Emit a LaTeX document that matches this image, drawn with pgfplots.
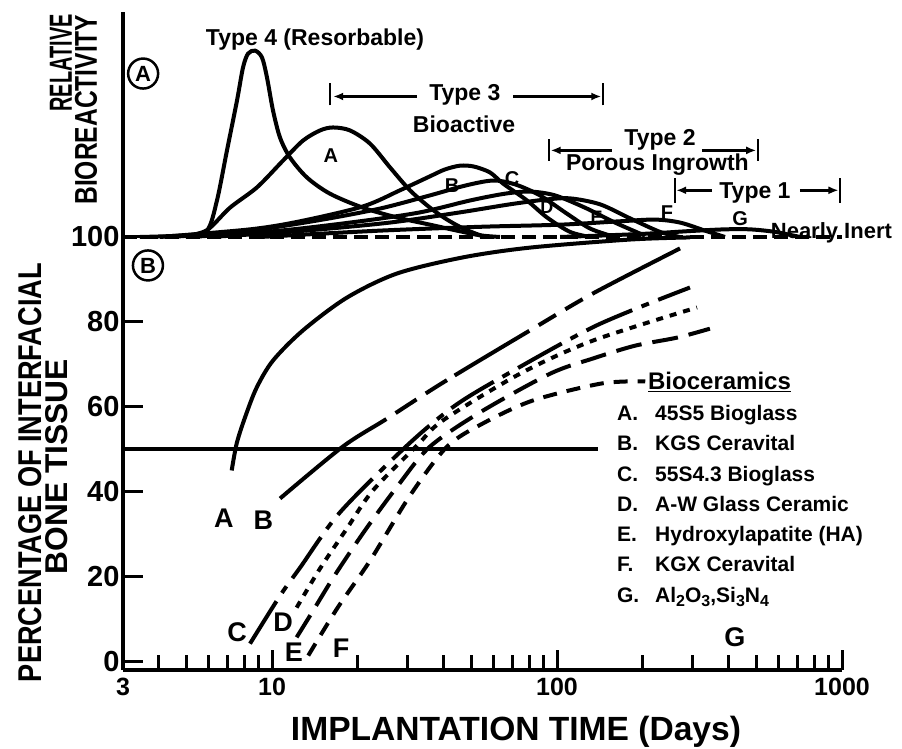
\documentclass[border=0pt]{standalone}
\usepackage{fontspec}
\setmainfont{Liberation Sans}
\usepackage{graphicx}
\usepackage{pgfplots}
\pgfplotsset{compat=1.18}
\usetikzlibrary{arrows.meta}
\newcommand\fs[1]{\fontsize{#1}{#1}\selectfont\bfseries}
\newcommand\sub[1]{\raisebox{-0.35ex}{\fontsize{16}{16}\selectfont\bfseries #1}}
\begin{document}
\begin{tikzpicture}
\begin{axis}[
  name=ax, at={(0,0)}, anchor=south west,
  scale only axis, width=719pt, height=658pt,
  xmode=log, xmin=3, xmax=1000, ymin=-2, ymax=153,
  axis lines*=left,
  axis line style={line width=4pt},
  clip=false,
  xtick={3,10,100,1000}, xticklabels={3,10,100,1000},
  minor xtick={4,5,6,7,8,9,20,30,40,50,60,70,80,90,200,300,400,500,600,700,800,900},
  ytick={0,20,40,60,80,100}, yticklabels={0,20,40,60,80,100},
  tick align=inside, major tick length=20pt, minor tick length=15pt,
  tick style={line width=3pt, black},
  xticklabel style={font=\fs{25}, yshift=-5pt},
  yticklabel style={font=\fs{29}},
  /pgf/number format/assume math mode=true,
  every axis plot/.append style={no marks, line width=4pt, black},
]
% ---------- Panel A : relative bioreactivity ----------
\addplot[black, line width=3.5pt, dash pattern=on 14pt off 7pt] coordinates {(3,100) (1000,100)};
% Type 4
\addplot[black, solid, smooth, tension=0.5] coordinates {(3.44,100) (4.95,100.4) (5.91,101.5) (6.41,108.6) (6.95,120.4) (7.54,132.2) (7.91,139.9) (8.24,143.2) (8.72,143.9) (9.22,142.3) (9.60,137.6) (10.08,129.8) (10.67,123.4) (11.57,118.7) (13.27,114.0) (15.97,110.2) (20.85,106.9) (27.45,104.6) (35.85,102.9) (44.58,101.5) (53.67,100.4) (63.09,100)};
% A
\addplot[black, solid, smooth] coordinates {(4.95,100.2) (5.91,101.6) (7.12,106.9) (8.86,111.7) (10.93,118.0) (12.84,122.7) (14.74,125.1) (16.37,125.8) (18.78,125.1) (22.07,122.0) (25.94,116.4) (30.48,111.0) (35.85,106.9) (41.13,104.1) (47.55,101.8) (55.89,100)};
% B
\addplot[black, solid, smooth] coordinates {(4.04,100) (8.37,101.8) (12.54,103.7) (20.85,107.2) (28.12,111.0) (35.85,114.3) (40.4,115.9) (45.67,116.8) (51.07,116.6) (58.2,115.2) (64.63,112.6) (78.49,108.6) (92.23,104.6) (111.1,101.2) (130.6,100)};
% C
\addplot[black, solid, smooth] coordinates {(4.39,100) (8.37,101.5) (14.74,104.0) (23.93,106.7) (35.85,109.8) (47.55,112.1) (59.62,113.3) (71.23,112.4) (87.16,109.8) (106.7,105.8) (130.6,102.0) (159.7,100)};
% D
\addplot[black, solid, smooth] coordinates {(5.16,100) (10.67,101.5) (20.35,103.7) (33.06,105.8) (49.51,108.6) (65.67,110.2) (80.41,110.7) (98.4,109.8) (125.4,106.9) (159.7,103.4) (203.6,100.3)};
% E
\addplot[black, solid, smooth] coordinates {(6.06,100) (12.54,101.4) (25.94,103.4) (45.67,105.8) (68.4,107.7) (90.76,108.8) (111.1,109.1) (141.5,107.7) (180.3,104.4) (229.8,101.2) (270.1,100)};
% F
\addplot[black, solid, smooth] coordinates {(9.08,100) (23.93,101.5) (53.67,102.4) (102.5,102.9) (166.3,103.7) (220.7,104.1) (270.1,103.4) (330.6,101.5) (388.6,100)};
% G
\addplot[black, solid, smooth] coordinates {(102.5,100) (195.5,100.7) (292.8,101.4) (388.6,101.8) (475.4,101.8) (581.9,101.2) (712.3,100)};

% ---------- Panel B : interfacial bone tissue ----------
\addplot[black, solid] coordinates {(3,50) (139.3,50)};
% A
\addplot[black, solid, smooth] coordinates {(7.22,45.0) (7.52,51.4) (8.04,57.5) (8.83,64.5) (10.08,70.9) (12.84,78.0) (18.3,85.7) (27.45,91.4) (46.8,95.2) (80.41,97.5) (180.3,99.4) (292.8,99.9)};
% B
\addplot[black, smooth, dash pattern=on 133pt off 11pt on 25pt off 11pt on 25pt off 9pt on 87pt off 11pt on 20pt off 11pt on 20pt off 11pt on 110pt off 1pt] coordinates {(10.67,38.4) (17.7,50.6) (25.3,57.2) (39.8,65.7) (80.41,78.0) (133.7,86.7) (270.1,97.3)};
% C
\addplot[black, smooth, dash pattern=on 50pt off 10pt on 8pt off 10pt] coordinates {(8.37,4.2) (10.67,15.5) (12.54,22.1) (17.3,35.1) (29.8,50.9) (43.9,60.3) (67.3,67.8) (138,79.2) (292.8,88.1)};
% D
\addplot[black, smooth, dash pattern=on 7pt off 7pt] coordinates {(12.2,12.7) (14.74,21.9) (18.3,31.3) (22.6,40.3) (32.3,50.9) (39.8,56.8) (74.2,67.8) (133.7,75.6) (310,83.4)};
% E
\addplot[black, smooth, dash pattern=on 26pt off 11pt] coordinates {(12.2,5.7) (13.8,11.5) (16.6,20.3) (21.2,30.9) (27.7,41.5) (35.8,50.6) (53.7,58.7) (94.6,67.8) (134,71.4) (188,74.4) (264,76.3) (344,78.4)};
% F
\addplot[black, smooth, dash pattern=on 14pt off 10pt] coordinates {(13.4,1.4) (17.0,12.7) (22.1,23.8) (30.5,39.1) (41.1,50.6) (55,56.1) (82.4,61.5) (143.5,65.5) (204,66.0)};

% ---------- range arrows ----------
\begin{scope}[line width=2.5pt, >={Latex[length=10pt,width=8pt]}]
\draw (axis cs:15.97,131) -- (axis cs:15.97,136.3);
\draw[->] (axis cs:32.3,133.1) -- (axis cs:16.4,133.1);
\draw[->] (axis cs:70.1,133.1) -- (axis cs:143,133.1);
\draw (axis cs:145,131) -- (axis cs:145,136.3);
\draw (axis cs:93.7,118.0) -- (axis cs:93.7,123.2);
\draw[->] (axis cs:155.9,120.4) -- (axis cs:95,120.4);
\draw[->] (axis cs:322.6,120.4) -- (axis cs:500,120.4);
\draw (axis cs:507,118.0) -- (axis cs:507,123.2);
\draw (axis cs:259,108.1) -- (axis cs:259,113.8);
\draw[->] (axis cs:350,111.0) -- (axis cs:262,111.0);
\draw[->] (axis cs:712,111.0) -- (axis cs:972,111.0);
\draw (axis cs:984,108.1) -- (axis cs:984,113.8);
\end{scope}

% ---------- texts ----------
\node[anchor=base, font=\fs{23}] at (axis cs:14.15,145.1) {Type 4 (Resorbable)};
\node[anchor=base, font=\fs{23}] at (axis cs:47.5,132.2) {Type 3};
\node[anchor=base, font=\fs{23}] at (axis cs:47.2,124.6) {Bioactive};
\node[anchor=base, font=\fs{23}] at (axis cs:229.8,121.6) {Type 2};
\node[anchor=base, font=\fs{23}] at (axis cs:225,115.7) {Porous Ingrowth};
\node[anchor=base, font=\fs{23}] at (axis cs:495,109.1) {Type 1};
\node[anchor=base, font=\fs{22}] at (axis cs:918,99.6) {Nearly Inert};

\node[draw, circle, line width=2.5pt, inner sep=0pt, minimum size=30pt, font=\fs{22}] at (axis cs:3.53,138.5) {A};
\node[draw, circle, line width=2.5pt, inner sep=0pt, minimum size=30pt, font=\fs{22}] at (axis cs:3.67,93.3) {B};

\node[font=\fs{20}] at (axis cs:16.1,119.2) {A};
\node[font=\fs{20}] at (axis cs:42.8,112.1) {B};
\node[font=\fs{20}] at (axis cs:69.5,113.8) {C};
\node[font=\fs{18}] at (axis cs:92.2,106.9) {D};
\node[font=\fs{18}] at (axis cs:137.6,104.6) {E};
\node[font=\fs{20}] at (axis cs:243,105.8) {F};
\node[font=\fs{20}] at (axis cs:439,104.4) {G};

\node[font=\fs{27}] at (axis cs:6.78,33.7) {A};
\node[font=\fs{27}] at (axis cs:9.32,33.2) {B};
\node[font=\fs{27}] at (axis cs:7.54,6.8) {C};
\node[font=\fs{27}] at (axis cs:10.93,9.2) {D};
\node[font=\fs{27}] at (axis cs:11.94,2.1) {E};
\node[font=\fs{27}] at (axis cs:17.46,3.1) {F};
\node[font=\fs{27}] at (axis cs:421,5.7) {G};

\node[anchor=base west, inner sep=0pt, font=\fs{24}] at (axis cs:208.5,64.1) {\underline{Bioceramics}};
\node[anchor=base west, inner sep=0pt, font=\fs{21}] at (axis cs:162.3,56.8) {A.};
\node[anchor=base west, inner sep=0pt, font=\fs{21}] at (axis cs:162.3,49.7) {B.};
\node[anchor=base west, inner sep=0pt, font=\fs{21}] at (axis cs:162.3,42.5) {C.};
\node[anchor=base west, inner sep=0pt, font=\fs{21}] at (axis cs:162.3,35.3) {D.};
\node[anchor=base west, inner sep=0pt, font=\fs{21}] at (axis cs:162.3,28.3) {E.};
\node[anchor=base west, inner sep=0pt, font=\fs{21}] at (axis cs:162.3,21.2) {F.};
\node[anchor=base west, inner sep=0pt, font=\fs{21}] at (axis cs:162.3,13.9) {G.};
\node[anchor=base west, inner sep=0pt, font=\fs{21}] at (axis cs:220.7,56.8) {45S5 Bioglass};
\node[anchor=base west, inner sep=0pt, font=\fs{21}] at (axis cs:220.7,49.7) {KGS Ceravital};
\node[anchor=base west, inner sep=0pt, font=\fs{21}] at (axis cs:220.7,42.5) {55S4.3 Bioglass};
\node[anchor=base west, inner sep=0pt, font=\fs{21}] at (axis cs:220.7,35.3) {A-W Glass Ceramic};
\node[anchor=base west, inner sep=0pt, font=\fs{21}] at (axis cs:220.7,28.3) {Hydroxylapatite (HA)};
\node[anchor=base west, inner sep=0pt, font=\fs{21}] at (axis cs:220.7,21.2) {KGX Ceravital};
\node[anchor=base west, inner sep=0pt, font=\fs{21}] at (axis cs:220.7,13.9) {Al\sub{2}O\sub{3},Si\sub{3}N\sub{4}};

% axis titles
\node[anchor=base] at (axis cs:71.8,-18.6) {\resizebox{450pt}{!}{\fs{33}IMPLANTATION TIME (Days)}};
\node[rotate=90, anchor=base, inner sep=0pt] at (axis cs:1.559,44.5) {\resizebox{419pt}{23pt}{\fs{30}PERCENTAGE OF INTERFACIAL}};
\node[rotate=90, anchor=base, inner sep=0pt] at (axis cs:1.924,45.9) {\resizebox{215pt}{22pt}{\fs{30}BONE TISSUE}};
\node[rotate=90, anchor=base, inner sep=0pt] at (axis cs:1.987,141.0) {\resizebox{97pt}{22pt}{\fs{30}RELATIVE}};
\node[rotate=90, anchor=base, inner sep=0pt] at (axis cs:2.431,130.0) {\resizebox{190pt}{22pt}{\fs{30}BIOREACTIVITY}};
\end{axis}
\pgfresetboundingbox
\path (ax.south west) ++(-123pt,-78pt) rectangle ++(902pt,748pt);
\end{tikzpicture}
\end{document}
